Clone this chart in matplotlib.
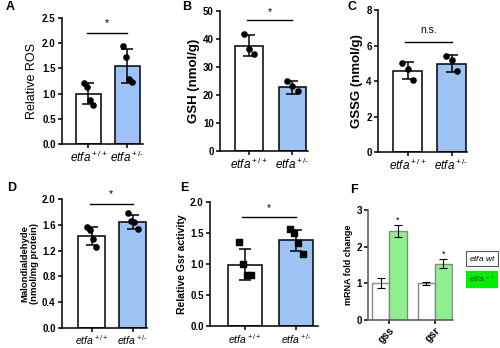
import numpy as np
import matplotlib
matplotlib.use("Agg")
import matplotlib.pyplot as plt

plt.rcParams['font.family'] = "sans-serif"
plt.rcParams['font.sans-serif'] = ["Liberation Sans", "DejaVu Sans"]
plt.rcParams['mathtext.fontset'] = "custom"
plt.rcParams['mathtext.it'] = "Liberation Sans:italic"
plt.rcParams['mathtext.rm'] = "Liberation Sans"

# group labels
groups = [r"$\it{etfa}^{\rm +/+}$", r"$\it{etfa}^{\rm +/\text{-}}$"]

# A: relative ROS
ros_mean = [1.0, 1.55]
ros_sd = [0.21, 0.34]
ros_pts = [[1.21, 1.13, 0.88, 0.78], [1.94, 1.73, 1.30, 1.24]]

# B: GSH
gsh_mean = [37.6, 22.8]
gsh_sd = [3.8, 2.3]
gsh_pts = [[41.8, 36.6, 34.6], [24.9, 23.1, 21.4]]

# C: GSSG
gssg_mean = [4.58, 4.99]
gssg_sd = [0.49, 0.46]
gssg_pts = [[5.0, 4.7, 4.05], [5.42, 5.18, 4.56]]

# D: malondialdehyde
mda_mean = [1.42, 1.65]
mda_sd = [0.14, 0.11]
mda_pts = [[1.57, 1.52, 1.38, 1.26], [1.78, 1.66, 1.65, 1.54]]

# E: relative Gsr activity
gsr_mean = [0.99, 1.38]
gsr_sd = [0.25, 0.17]
gsr_pts = [[1.35, 1.01, 0.82, 0.82], [1.57, 1.50, 1.34, 1.17]]

# F: mRNA fold change
genes = ["gss", "gsr"]
mrna_wt = [1.02, 1.0]
mrna_wt_err = [0.14, 0.04]
mrna_het = [2.42, 1.54]
mrna_het_err = [0.17, 0.13]

BLUE = "#9cc3f3"
GREEN = "#8ff08f"

fig = plt.figure(figsize=(5, 3.48), dpi=100)


def style_axes(ax, tsize=7):
    for s in ["top", "right"]:
        ax.spines[s].set_visible(False)
    for s in ["left", "bottom"]:
        ax.spines[s].set_linewidth(1.1)
    ax.tick_params(axis="y", width=1.1, length=3, labelsize=tsize, pad=1.5)
    ax.tick_params(axis="x", width=1.1, length=3, pad=1)
    for lbl in ax.get_yticklabels():
        lbl.set_fontweight("bold")


def bar_panel(rect, means, sds, pts, ylim, yticks, yfmt, ylabel, lab_kw,
              xlim, width, sig_y, sig_text, sig_text_y, marker="o", tsize=7,
              xsize=8.5):
    ax = fig.add_axes(rect)
    x = np.arange(2)
    ax.bar(x, means, width=width, color=["white", BLUE], edgecolor="black",
           linewidth=1.1, zorder=1)
    ax.errorbar(x, means, yerr=sds, fmt="none", ecolor="black", elinewidth=1.1,
                capsize=4, capthick=1.1, zorder=3)
    for i, p in enumerate(pts):
        offs = np.linspace(-0.12, 0.12, len(p))
        ax.scatter(i + offs, p, s=14, color="black", marker=marker, zorder=4)
    ax.set_xlim(*xlim)
    ax.set_ylim(*ylim)
    ax.set_yticks(yticks)
    ax.set_yticklabels([yfmt.format(t) for t in yticks])
    ax.set_xticks(x)
    ax.set_xticklabels(groups, fontsize=xsize)
    ax.set_ylabel(ylabel, **lab_kw)
    ax.plot([-0.05, 1.0], [sig_y, sig_y], color="black", lw=1.0, clip_on=False)
    ax.text(0.47, sig_text_y, sig_text, ha="center", va="center", fontsize=7.5,
            clip_on=False)
    style_axes(ax, tsize)
    return ax


bar_panel([0.124, 0.586, 0.162, 0.362], ros_mean, ros_sd, ros_pts,
          (0, 2.5), [0, 0.5, 1.0, 1.5, 2.0, 2.5], "{:.1f}", "Relative ROS",
          dict(fontsize=9, labelpad=3), (-0.68, 1.4), 0.64, 2.2, "*", 2.4)

bar_panel([0.44, 0.566, 0.176, 0.402], gsh_mean, gsh_sd, gsh_pts,
          (0, 50), [0, 10, 20, 30, 40, 50], "{:.0f}", "GSH (nmol/g)",
          dict(fontsize=9.5, fontweight="bold", labelpad=2), (-0.67, 1.36), 0.64,
          46.8, "*", 49.5)

bar_panel([0.756, 0.563, 0.178, 0.408], gssg_mean, gssg_sd, gssg_pts,
          (0, 8), [0, 2, 4, 6, 8], "{:.0f}", "GSSG (nmol/g)",
          dict(fontsize=9.5, fontweight="bold", labelpad=2), (-0.67, 1.35), 0.66,
          6.2, "n.s.", 6.9)

bar_panel([0.124, 0.058, 0.17, 0.37], mda_mean, mda_sd, mda_pts,
          (0, 2.0), [0, 0.4, 0.8, 1.2, 1.6, 2.0], "{:.1f}",
          "Malondialdehyde\n(nmol/mg protein)",
          dict(fontsize=6.8, fontweight="bold", labelpad=2), (-0.72, 1.35), 0.66,
          1.92, "*", 2.07, tsize=7, xsize=7.5)

bar_panel([0.42, 0.062, 0.216, 0.358], gsr_mean, gsr_sd, gsr_pts,
          (0, 2.0), [0, 0.5, 1.0, 1.5, 2.0], "{:.1f}", "Relative Gsr activity",
          dict(fontsize=7.5, fontweight="bold", labelpad=2), (-0.68, 1.42), 0.66,
          1.75, "*", 1.9, marker="s", tsize=7, xsize=7.5)

# F: grouped bars
axf = fig.add_axes([0.736, 0.08, 0.17, 0.317])
xg = np.arange(len(genes))
bw = 0.38
axf.bar(xg - bw / 2, mrna_wt, width=bw, color="white", edgecolor="#888888",
        linewidth=1.0)
axf.bar(xg + bw / 2, mrna_het, width=bw, color=GREEN, edgecolor="#888888",
        linewidth=1.0)
axf.errorbar(xg - bw / 2, mrna_wt, yerr=mrna_wt_err, fmt="none", ecolor="black",
             elinewidth=0.8, capsize=3, capthick=0.8)
axf.errorbar(xg + bw / 2, mrna_het, yerr=mrna_het_err, fmt="none", ecolor="black",
             elinewidth=0.8, capsize=3, capthick=0.8)
for xi, m, e in zip(xg + bw / 2, mrna_het, mrna_het_err):
    axf.text(xi, m + e + 0.12, "*", ha="center", va="center", fontsize=6.5)
axf.set_xlim(-0.47, 1.4)
axf.set_ylim(0, 3)
axf.set_yticks([0, 1, 2, 3])
axf.set_yticklabels(["0", "1", "2", "3"])
axf.set_xticks(xg)
axf.set_xticklabels(genes, rotation=45, fontsize=7.5, fontweight="bold",
                    ha="right", rotation_mode="anchor")
axf.set_ylabel("mRNA fold change", fontsize=6.5, fontweight="bold", labelpad=2)
style_axes(axf, 7)
axf.spines["bottom"].set_color("#555555")
axf.spines["left"].set_color("#555555")

# legend boxes for F
fig.text(0.964, 0.258, r"$\it{etfa\ wt}$", ha="center", va="center", fontsize=6,
         bbox=dict(boxstyle="square,pad=0.35", fc="white", ec="#555555", lw=0.8))
fig.text(0.964, 0.196, r"$\it{etfa}^{\ \rm +/\text{-}}$", ha="center", va="center",
         fontsize=6, color="#224422",
         bbox=dict(boxstyle="square,pad=0.35", fc="#00ee00", ec="none"))

# panel letters
for lt, (px, py) in zip("ABCDEF", [(6, 7), (182, 7), (348, 7), (7, 188),
                                    (180, 188), (350, 190)]):
    fig.text(px / 500, 1 - py / 348, lt, fontsize=9, fontweight="bold",
             ha="left", va="center")

fig.savefig("out.png", dpi=100)
